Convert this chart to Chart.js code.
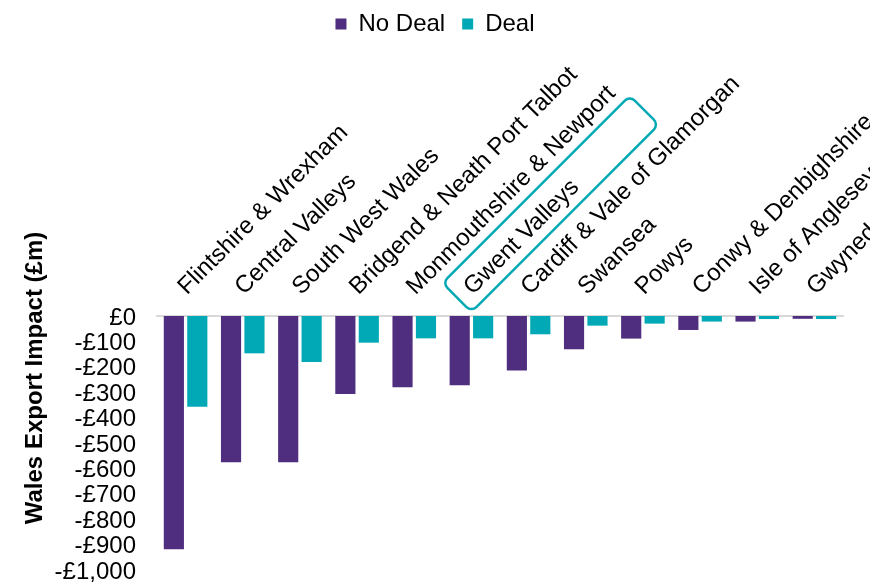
<!DOCTYPE html>
<html lang="en">
<head>
  <meta charset="UTF-8" />
  <title>Wales Export Impact by Region</title>
  <script src="https://cdn.jsdelivr.net/npm/chart.js"></script>
  <style>
    body { margin:0; background:#fff; }
    .wrap { width:870px; height:583px; position:relative; }
  </style>
</head>
<body>
<div class="wrap">
  <canvas id="chart" width="870" height="583"></canvas>
</div>

<script>
const regions = [
  'Flintshire & Wrexham', 'Central Valleys', 'South West Wales',
  'Bridgend & Neath Port Talbot', 'Monmouthshire & Newport', 'Gwent Valleys',
  'Cardiff & Vale of Glamorgan', 'Swansea', 'Powys',
  'Conwy & Denbighshire', 'Isle of Anglesey', 'Gwynedd'
];
const noDeal = [-918, -576, -576, -307, -281, -273, -215, -131, -89, -55, -22, -11];
const deal   = [-357, -147, -181, -105, -88, -88, -72, -38, -30, -22, -12, -12];
const yTickValues = [0, -100, -200, -300, -400, -500, -600, -700, -800, -900, -1000];
const yTickLabels = ['£0', '-£100', '-£200', '-£300', '-£400', '-£500', '-£600', '-£700', '-£800', '-£900', '-£1,000'];
const highlighted = 'Gwent Valleys';

const FONT = "'Liberation Sans', Arial, sans-serif";
const PURPLE = '#4f2d7f';
const TEAL = '#00a9b5';

// y axis title sits higher than the plot centre in the original
const yTitle = {
  id: 'yTitle',
  afterDraw(chart) {
    const ctx = chart.ctx;
    ctx.save();
    ctx.translate(35, 378);
    ctx.rotate(-Math.PI / 2);
    ctx.font = 'bold 24px ' + FONT;
    ctx.fillStyle = '#000';
    ctx.textAlign = 'center';
    ctx.textBaseline = 'middle';
    ctx.fillText('Wales Export Impact (£m)', 0, 0);
    ctx.restore();
  }
};

// rounded box round the highlighted label
const labelBox = {
  id: 'labelBox',
  afterDraw(chart) {
    const xs = chart.scales.x;
    const i = regions.indexOf(highlighted);
    const ctx = chart.ctx;
    ctx.save();
    ctx.translate(xs.getPixelForTick(i), chart.chartArea.top - 4);
    ctx.rotate(-Math.PI / 4);
    ctx.beginPath();
    ctx.roundRect(0, -41, 265, 41, 7);
    ctx.lineWidth = 2.5;
    ctx.strokeStyle = TEAL;
    ctx.stroke();
    ctx.restore();
  }
};

new Chart(document.getElementById('chart'), {
  type: 'bar',
  data: {
    labels: regions,
    datasets: [
      { label: 'No Deal', data: noDeal, backgroundColor: PURPLE },
      { label: 'Deal', data: deal, backgroundColor: TEAL }
    ]
  },
  options: {
    responsive: false,
    animation: false,
    layout: { padding: { top: -5, right: 0, bottom: 13, left: 0 } },
    datasets: { bar: { categoryPercentage: 0.82, barPercentage: 0.86 } },
    plugins: {
      legend: {
        position: 'top',
        labels: {
          font: { family: FONT, size: 24 },
          color: '#000',
          boxWidth: 11,
          boxHeight: 11,
          padding: 17
        }
      },
      tooltip: { enabled: false }
    },
    scales: {
      x: {
        position: 'top',
        grid: { display: false, drawTicks: false },
        border: { display: true, color: '#d9d9d9', width: 2 },
        ticks: {
          autoSkip: false,
          minRotation: 45,
          maxRotation: 45,
          padding: 15,
          labelOffset: 17,
          color: '#000',
          font: { family: FONT, size: 24 }
        },
        afterFit(s) {
          // labels run off the right edge, as in the original
          s.paddingLeft = 0;
          s.paddingRight = 27;
          s.height = 321 - s.chart.legend.height;
        }
      },
      y: {
        min: -1000,
        max: 0,
        afterBuildTicks(s) { s.ticks = yTickValues.map(v => ({ value: v })); },
        grid: { display: false, drawTicks: false },
        border: { display: false },
        ticks: {
          autoSkip: false,
          padding: 21,
          labelOffset: 2,
          color: '#000',
          font: { family: FONT, size: 24 },
          callback: (v) => yTickLabels[yTickValues.indexOf(v)]
        },
        afterFit(s) {
          s.width = 157;
          s.paddingTop = 0;
          s.paddingBottom = 0;
        }
      }
    }
  },
  plugins: [yTitle, labelBox]
});
</script>
</body>
</html>
